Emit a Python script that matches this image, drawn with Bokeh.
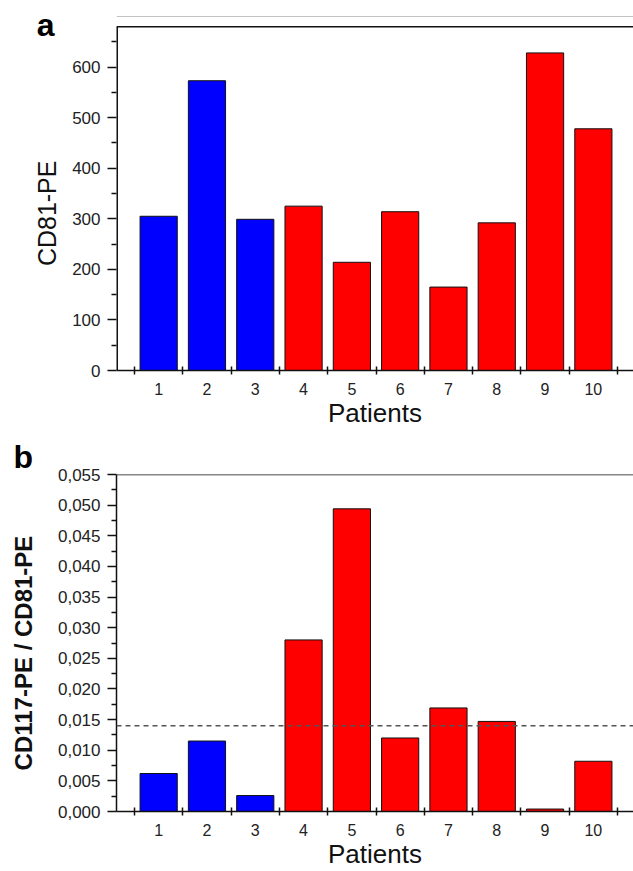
from bokeh.plotting import figure
from bokeh.layouts import column
from bokeh.models import (FixedTicker, Range1d, Span, ColumnDataSource, LinearAxis,
                          CustomJSTickFormatter)
from bokeh.embed import file_html
from bokeh.resources import INLINE

# ---------------- data ----------------
patients = [1, 2, 3, 4, 5, 6, 7, 8, 9, 10]
x_tick_labels = ["1", "2", "3", "4", "5", "6", "7", "8", "9", "10"]
bar_colors = ["#0000FF", "#0000FF", "#0000FF", "#FF0000", "#FF0000",
              "#FF0000", "#FF0000", "#FF0000", "#FF0000", "#FF0000"]
cd81_pe = [305, 573, 299, 325, 214, 314, 165, 292, 628, 478]
ratio_cd117_cd81 = [0.0062, 0.0115, 0.0026, 0.0280, 0.0494, 0.0120,
                    0.0169, 0.0147, 0.0004, 0.0082]
ratio_threshold = 0.014
a_y_ticks = [0, 100, 200, 300, 400, 500, 600]
a_y_minor = [50, 150, 250, 350, 450, 550, 650]
b_y_ticks = [0.0, 0.005, 0.01, 0.015, 0.02, 0.025, 0.03, 0.035, 0.04, 0.045, 0.05, 0.055]
b_y_minor = [0.0025, 0.0075, 0.0125, 0.0175, 0.0225, 0.0275, 0.0325,
             0.0375, 0.0425, 0.0475, 0.0525]
x_minor = [0.5, 1.5, 2.5, 3.5, 4.5, 5.5, 6.5, 7.5, 8.5, 9.5, 10.5]

# ---------------- layout / style ----------------
FONT = "Liberation Sans"
NB = "\u00a0"
X_START, X_END = 0.127, 10.831
A_Y_END = 704
A_FRAME_TOP = 680
A_PAGE_LINE = 700
A_LETTER_POS = 684
B_Y_END = 0.055
BAR_W = 0.77
INK = "#111111"


def style_axes(p, yticks, yminor):
    xa = p.xaxis[0]
    xa.ticker = FixedTicker(ticks=patients, minor_ticks=x_minor)
    xa.major_label_overrides = {k: v for k, v in zip(patients, x_tick_labels)}
    xa.major_tick_in = 0
    xa.major_tick_out = 0
    xa.minor_tick_in = 4
    xa.minor_tick_out = 4
    xa.minor_tick_line_color = INK
    xa.minor_tick_line_width = 1.5
    xa.axis_line_color = INK
    xa.axis_line_width = 1.5
    xa.major_label_text_font = FONT
    xa.major_label_text_font_size = "16px"
    xa.major_label_text_color = "#222222"
    xa.major_label_standoff = 8
    xa.axis_label = "Patients"
    xa.axis_label_text_font = FONT
    xa.axis_label_text_font_size = "26px"
    xa.axis_label_text_font_style = "normal"
    xa.axis_label_text_color = INK
    xa.axis_label_standoff = 0

    ya = p.yaxis[0]
    ya.ticker = FixedTicker(ticks=yticks, minor_ticks=yminor)
    ya.major_tick_in = 0
    ya.major_tick_out = 9
    ya.minor_tick_in = 0
    ya.minor_tick_out = 5
    ya.major_tick_line_color = INK
    ya.minor_tick_line_color = INK
    ya.major_tick_line_width = 1.5
    ya.minor_tick_line_width = 1.5
    ya.axis_line_color = INK
    ya.axis_line_width = 1.5
    ya.major_label_text_font = FONT
    ya.major_label_text_font_size = "17px"
    ya.major_label_text_color = "#222222"
    ya.major_label_standoff = 7
    ya.axis_label_text_font = FONT
    ya.axis_label_text_color = INK

    p.xgrid.grid_line_color = None
    p.ygrid.grid_line_color = None
    p.outline_line_color = None
    p.background_fill_color = "white"
    p.border_fill_color = "white"


# ---------- panel a ----------
src_a = ColumnDataSource(dict(x=patients, top=cd81_pe, color=bar_colors))
pa = figure(width=633, height=430, x_range=Range1d(X_START, X_END),
            y_range=Range1d(0, A_Y_END), output_backend="svg",
            toolbar_location=None, min_border_left=116, min_border_right=0,
            min_border_top=14, min_border_bottom=58)
pa.vbar(x="x", top="top", width=BAR_W, bottom=0, source=src_a,
        fill_color="color", line_color=INK, line_width=1)
style_axes(pa, a_y_ticks, a_y_minor)
pa.yaxis[0].axis_label = "CD81-PE" + NB * 6
pa.yaxis[0].axis_label_text_font_size = "25px"
pa.yaxis[0].axis_label_text_font_style = "normal"
pa.yaxis[0].axis_label_standoff = 8
pa.yaxis[0].axis_line_color = None
# frame lines
pa.segment(x0=[X_START], y0=[0], x1=[X_START], y1=[A_FRAME_TOP],
           line_color=INK, line_width=3)
pa.add_layout(Span(location=A_FRAME_TOP, dimension="width",
                   line_color=INK, line_width=1.5))
pa.add_layout(Span(location=A_PAGE_LINE, dimension="width",
                   line_color="#c4c4c4", line_width=1))
# panel letter "a" as a label-only outer axis
letter_axis = LinearAxis(ticker=FixedTicker(ticks=[A_LETTER_POS]),
                         major_label_overrides={A_LETTER_POS: "a"},
                         axis_line_color=None, major_tick_line_color=None,
                         minor_tick_line_color=None, major_tick_in=0,
                         major_tick_out=0, minor_tick_in=0, minor_tick_out=0,
                         major_label_standoff=-24,
                         major_label_text_font=FONT,
                         major_label_text_font_size="32px",
                         major_label_text_font_style="bold",
                         major_label_text_color="#000000")
pa.add_layout(letter_axis, "left")

# ---------- panel b ----------
src_b = ColumnDataSource(dict(x=patients, top=ratio_cd117_cd81, color=bar_colors))
pb = figure(width=633, height=441, x_range=Range1d(X_START, X_END),
            y_range=Range1d(0, B_Y_END), output_backend="svg",
            toolbar_location=None, min_border_left=116, min_border_right=0,
            min_border_top=44, min_border_bottom=55,
            title="b")
pb.title.align = "left"
pb.title.offset = -103
pb.title.standoff = 0
pb.title.vertical_align = "bottom"
pb.title.text_font = FONT
pb.title.text_font_size = "32px"
pb.title.text_font_style = "bold"
pb.title.text_color = "#000000"
pb.vbar(x="x", top="top", width=BAR_W, bottom=0, source=src_b,
        fill_color="color", line_color=INK, line_width=1)
pb.add_layout(Span(location=ratio_threshold, dimension="width",
                   line_color="#555555", line_width=1.5, line_dash="5 4"))
style_axes(pb, b_y_ticks, b_y_minor)
pb.yaxis[0].formatter = CustomJSTickFormatter(
    code="return tick.toFixed(3).replace('.', ',');")
pb.yaxis[0].axis_label = "CD117-PE / CD81-PE" + NB * 3
pb.yaxis[0].axis_label_text_font_size = "24px"
pb.yaxis[0].axis_label_text_font_style = "bold"
pb.yaxis[0].axis_label_standoff = 18
pb.xaxis[0].major_label_standoff = 8
pb.xaxis[0].axis_label_standoff = 0
pb.add_layout(Span(location=B_Y_END, dimension="width",
                   line_color=INK, line_width=1.5))

layout = column(pa, pb, spacing=0)
open("out.html", "w").write(file_html(layout, INLINE))
